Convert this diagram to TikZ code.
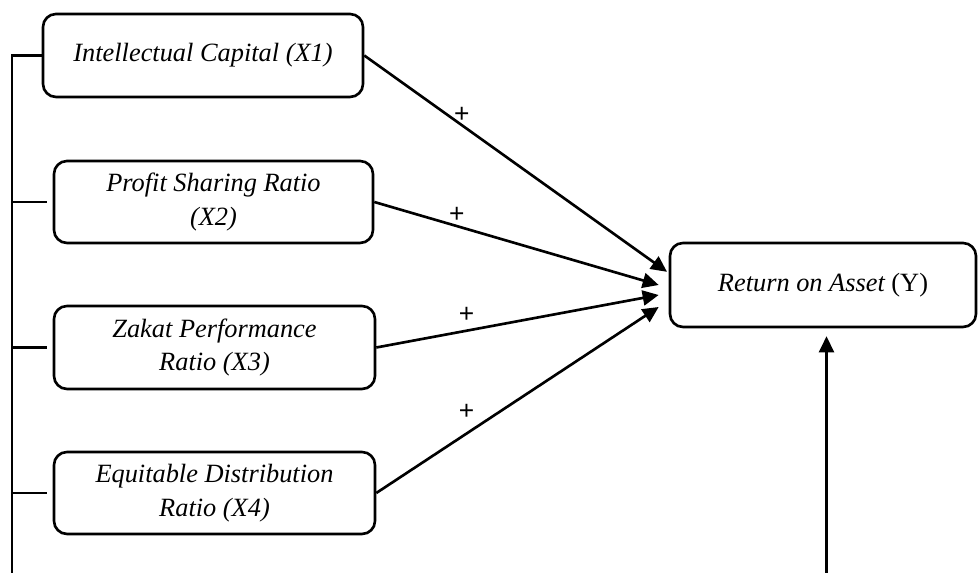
\documentclass[tikz,border=0pt]{standalone}
\usepackage{fontspec}
\setmainfont{Liberation Serif}
\newfontfamily\signfont{Liberation Sans}
\usetikzlibrary{arrows.meta}
\tikzset{var/.style={draw=black, rounded corners=0.26cm, line width=1.5pt, align=center, inner sep=0pt,
  font=\fontsize{15}{19}\selectfont\itshape, minimum height=#1},
%default height of a variable box
var/.default={1.66cm},
arr/.style={line width=1.5pt, -{Triangle[length=0.32cm,width=0.3cm]}},
sign/.style={font=\signfont\fontsize{15}{18}\selectfont, inner sep=1pt}}

\begin{document}
\begin{tikzpicture}[]
\useasboundingbox (0,0) rectangle (19.56,11.46);

\node[var, minimum width=6.4cm] (x1) at (4.06,10.35) {Intellectual Capital (X1)};
\node[var=1.64cm, minimum width=6.38cm] (x2) at (4.27,7.42) {Profit Sharing Ratio\\(X2)};
\node[var, minimum width=6.42cm] (x3) at (4.29,4.51) {Zakat Performance\\Ratio (X3)};
\node[var=1.64cm, minimum width=6.42cm] (x4) at (4.29,1.6) {Equitable Distribution\\Ratio (X4)};
\node[var=1.68cm, minimum width=6.12cm] (y) at (16.46,5.76) {Return on Asset {\upshape(Y)}};

\coordinate (bot) at (0.24,0);
\coordinate (src) at (16.53,0);

\draw[line width=1.5pt] (x1.west) -| (bot);
\foreach \v in {x2,x3,x4}
  \draw[line width=1.5pt, shorten <=0.12cm] (\v.west) -- (\v.west -| bot);

\draw[arr, shorten >=0.04cm] (x1.east) -- ([yshift=0.24cm]y.west) node[sign, pos=0.32, above] {+};
\draw[arr] (x2.east) -- ([xshift=-0.2cm]y.west) node[sign, pos=0.29, above] {+};
\draw[arr] (x3.east) -- ([xshift=-0.2cm,yshift=-0.2cm]y.west) node[sign, pos=0.32, above=3pt] {+};
\draw[arr] (x4.east) -- ([xshift=-0.2cm,yshift=-0.44cm]y.west) node[sign, pos=0.32, above=6pt] {+};

\draw[arr, shorten >=0.16cm] (src) -- (src |- y.south);
\end{tikzpicture}
\end{document}
